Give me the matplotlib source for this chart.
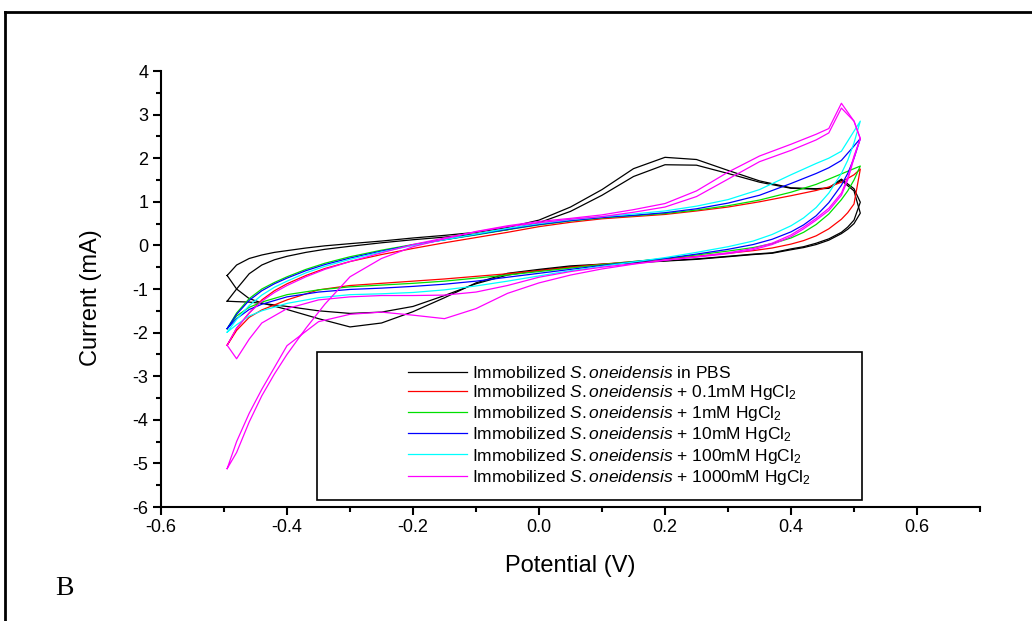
import matplotlib
matplotlib.use("Agg")
import matplotlib.pyplot as plt
from matplotlib.lines import Line2D
from matplotlib.patches import Rectangle
from matplotlib.ticker import MultipleLocator

plt.rcParams['font.family'] = ['Liberation Sans', 'DejaVu Sans']
plt.rcParams['mathtext.fontset'] = 'custom'
plt.rcParams['mathtext.rm'] = 'Liberation Sans'
plt.rcParams['mathtext.it'] = 'Liberation Sans:italic'

# potential grid (V): forward scan and reverse scan
E_fwd = [-0.495, -0.48, -0.46, -0.44, -0.42, -0.40, -0.37, -0.34, -0.30, -0.25, -0.20, -0.15, -0.10, -0.05,
         0.00, 0.05, 0.10, 0.15, 0.20, 0.25, 0.30, 0.35, 0.40, 0.44, 0.46, 0.48, 0.50, 0.51]
E_rev = [0.51, 0.50, 0.49, 0.48, 0.46, 0.44, 0.42, 0.40, 0.37, 0.34, 0.30, 0.25, 0.20, 0.15, 0.10, 0.05, 0.00,
         -0.05, -0.10, -0.15, -0.20, -0.25, -0.30, -0.35, -0.40, -0.44, -0.46, -0.48, -0.495]

# current (mA), PBS only - two cycles
pbs_fwd_1 = [-0.69, -0.45, -0.30, -0.22, -0.16, -0.12, -0.06, -0.01, 0.04, 0.10, 0.17, 0.23, 0.30, 0.41, 0.58,
             0.88, 1.28, 1.76, 2.02, 1.97, 1.72, 1.48, 1.32, 1.30, 1.32, 1.52, 1.30, 0.99]
pbs_rev_1 = [0.99, 0.58, 0.42, 0.30, 0.15, 0.05, -0.03, -0.08, -0.17, -0.20, -0.25, -0.31, -0.35, -0.39, -0.43,
             -0.47, -0.55, -0.64, -0.86, -1.20, -1.52, -1.78, -1.87, -1.68, -1.47, -1.32, -1.22, -1.00, -0.69]
pbs_fwd_2 = [-1.28, -1.00, -0.65, -0.45, -0.33, -0.25, -0.16, -0.09, -0.02, 0.06, 0.13, 0.19, 0.26, 0.36, 0.52,
             0.78, 1.15, 1.58, 1.85, 1.84, 1.65, 1.45, 1.31, 1.29, 1.31, 1.49, 1.25, 0.74]
pbs_rev_2 = [0.74, 0.50, 0.37, 0.27, 0.12, 0.02, -0.05, -0.10, -0.18, -0.21, -0.26, -0.32, -0.36, -0.40, -0.44,
             -0.49, -0.57, -0.68, -0.88, -1.15, -1.40, -1.53, -1.56, -1.50, -1.40, -1.33, -1.30, -1.29, -1.28]

# 0.1 mM HgCl2
hg01_fwd = [-2.29, -1.90, -1.55, -1.25, -1.04, -0.88, -0.69, -0.53, -0.37, -0.21, -0.07, 0.06, 0.18, 0.30, 0.43,
            0.53, 0.61, 0.66, 0.71, 0.79, 0.88, 1.00, 1.14, 1.26, 1.34, 1.45, 1.62, 1.75]
hg01_rev = [1.75, 0.95, 0.75, 0.60, 0.38, 0.22, 0.11, 0.03, -0.06, -0.12, -0.18, -0.25, -0.31, -0.37, -0.43,
            -0.50, -0.58, -0.65, -0.71, -0.77, -0.82, -0.87, -0.92, -1.02, -1.25, -1.48, -1.65, -1.95, -2.29]

# 1 mM HgCl2
hg1_fwd = [-1.91, -1.55, -1.22, -1.00, -0.85, -0.72, -0.55, -0.41, -0.26, -0.11, 0.02, 0.13, 0.24, 0.36, 0.47,
           0.56, 0.63, 0.68, 0.73, 0.81, 0.91, 1.04, 1.22, 1.40, 1.52, 1.64, 1.76, 1.82]
hg1_rev = [1.82, 1.50, 1.25, 1.05, 0.72, 0.48, 0.30, 0.17, 0.04, -0.05, -0.13, -0.22, -0.30, -0.37, -0.44,
           -0.52, -0.60, -0.68, -0.75, -0.82, -0.87, -0.91, -0.95, -1.02, -1.13, -1.30, -1.42, -1.62, -1.91]

# 10 mM HgCl2
hg10_fwd = [-1.91, -1.58, -1.26, -1.04, -0.88, -0.75, -0.58, -0.44, -0.29, -0.13, 0.01, 0.13, 0.25, 0.37, 0.48,
            0.57, 0.64, 0.69, 0.75, 0.84, 0.97, 1.15, 1.42, 1.65, 1.78, 1.95, 2.28, 2.45]
hg10_rev = [2.45, 2.00, 1.65, 1.38, 0.98, 0.68, 0.47, 0.31, 0.14, 0.02, -0.09, -0.20, -0.30, -0.38, -0.46,
            -0.55, -0.64, -0.73, -0.82, -0.89, -0.94, -0.98, -1.01, -1.07, -1.18, -1.35, -1.47, -1.68, -1.91]

# 100 mM HgCl2
hg100_fwd = [-1.99, -1.70, -1.38, -1.14, -0.96, -0.82, -0.63, -0.48, -0.32, -0.15, 0.00, 0.13, 0.26, 0.39, 0.50,
             0.59, 0.66, 0.72, 0.79, 0.90, 1.05, 1.28, 1.62, 1.88, 2.00, 2.16, 2.62, 2.85]
hg100_rev = [2.85, 2.35, 1.95, 1.65, 1.20, 0.87, 0.63, 0.45, 0.25, 0.10, -0.03, -0.16, -0.28, -0.38, -0.48,
             -0.58, -0.70, -0.82, -0.93, -1.02, -1.08, -1.11, -1.13, -1.20, -1.33, -1.50, -1.62, -1.82, -1.99]

# 1000 mM HgCl2 - two cycles
hg1000_fwd_1 = [-2.29, -1.90, -1.55, -1.28, -1.08, -0.92, -0.72, -0.55, -0.37, -0.17, 0.02, 0.17, 0.31, 0.43,
                0.52, 0.60, 0.66, 0.76, 0.88, 1.12, 1.52, 1.92, 2.18, 2.42, 2.58, 3.15, 2.85, 2.45]
hg1000_rev_1 = [2.45, 2.00, 1.50, 1.15, 0.80, 0.58, 0.38, 0.20, 0.02, -0.10, -0.19, -0.27, -0.34, -0.42, -0.50,
                -0.60, -0.73, -0.92, -1.07, -1.14, -1.15, -1.15, -1.18, -1.25, -1.45, -1.78, -2.15, -2.60, -2.29]
hg1000_fwd_2 = [-5.12, -4.75, -4.05, -3.45, -2.95, -2.50, -1.90, -1.35, -0.72, -0.30, -0.03, 0.15, 0.32, 0.45,
                0.55, 0.62, 0.70, 0.82, 0.96, 1.25, 1.68, 2.05, 2.32, 2.55, 2.68, 3.26, 2.85, 2.45]
hg1000_rev_2 = [2.45, 2.05, 1.55, 1.20, 0.85, 0.62, 0.42, 0.24, 0.05, -0.07, -0.17, -0.26, -0.34, -0.43, -0.54,
                -0.68, -0.86, -1.10, -1.45, -1.68, -1.60, -1.53, -1.58, -1.75, -2.30, -3.30, -3.85, -4.50, -5.12]

labels = [
    r"Immobilized $\mathit{S{.}oneidensis}$ in PBS",
    r"Immobilized $\mathit{S{.}oneidensis}$ + 0.1mM HgCl$_2$",
    r"Immobilized $\mathit{S{.}oneidensis}$ + 1mM HgCl$_2$",
    r"Immobilized $\mathit{S{.}oneidensis}$ + 10mM HgCl$_2$",
    r"Immobilized $\mathit{S{.}oneidensis}$ + 100mM HgCl$_2$",
    r"Immobilized $\mathit{S{.}oneidensis}$ + 1000mM HgCl$_2$",
]
colors = ['#000000', '#ff0000', '#00e000', '#0000ff', '#00ffff', '#ff00ff']

series = [
    [(pbs_fwd_1, pbs_rev_1), (pbs_fwd_2, pbs_rev_2)],
    [(hg01_fwd, hg01_rev)],
    [(hg1_fwd, hg1_rev)],
    [(hg10_fwd, hg10_rev)],
    [(hg100_fwd, hg100_rev)],
    [(hg1000_fwd_1, hg1000_rev_1), (hg1000_fwd_2, hg1000_rev_2)],
]

fig = plt.figure(figsize=(10.32, 6.21), dpi=100)
ax = fig.add_axes([161 / 1032, 1 - 507 / 621, 819 / 1032, 436 / 621])

for cycles, color in zip(series, colors):
    for fwd, rev in cycles:
        ax.plot(E_fwd + E_rev, fwd + rev, color=color, lw=0.9)

ax.set_xlim(-0.6, 0.7)
ax.set_ylim(-6, 4)
ax.xaxis.set_minor_locator(MultipleLocator(0.1))
ax.yaxis.set_minor_locator(MultipleLocator(0.5))
ax.set_xticks([-0.6, -0.4, -0.2, 0.0, 0.2, 0.4, 0.6])
ax.set_xticklabels(['-0.6', '-0.4', '-0.2', '0.0', '0.2', '0.4', '0.6'])
ax.set_yticks(range(-6, 5))
ax.set_yticklabels([str(v) for v in range(-6, 5)])

ax.spines['top'].set_visible(False)
ax.spines['right'].set_visible(False)
ax.spines['left'].set_linewidth(1.5)
ax.spines['bottom'].set_linewidth(1.5)
ax.tick_params(which='major', direction='out', length=6, width=1.5, labelsize=13, pad=3)
ax.tick_params(which='minor', direction='out', length=3.5, width=1.5)

ax.set_xlabel("Potential (V)", fontsize=17)
ax.set_ylabel("Current (mA)", fontsize=17)
ax.xaxis.set_label_coords(0.5, -0.11)
ax.yaxis.set_label_coords(-0.072, 0.48)

# legend box
ax.add_patch(Rectangle((0.19, 0.016), 0.666, 0.339, transform=ax.transAxes,
                       fill=False, edgecolor='black', lw=1.2, zorder=5))
handles = [Line2D([], [], color=c, lw=0.9) for c in colors]
ax.legend(handles, labels, loc='center', bbox_to_anchor=(0.548, 0.186), frameon=False,
          fontsize=12.5, handlelength=3.4, handletextpad=0.3, labelspacing=0.12)

# figure frame and panel letter
fig.add_artist(Line2D([5 / 1032, 1.0], [1 - 12 / 621, 1 - 12 / 621], transform=fig.transFigure,
                      color='black', lw=2))
fig.add_artist(Line2D([5 / 1032, 5 / 1032], [0.0, 1 - 12 / 621], transform=fig.transFigure,
                      color='black', lw=2))
fig.text(55 / 1032, 1 - 595 / 621, "B", fontsize=20, family='Liberation Serif')

fig.savefig("out.png", dpi=100)
